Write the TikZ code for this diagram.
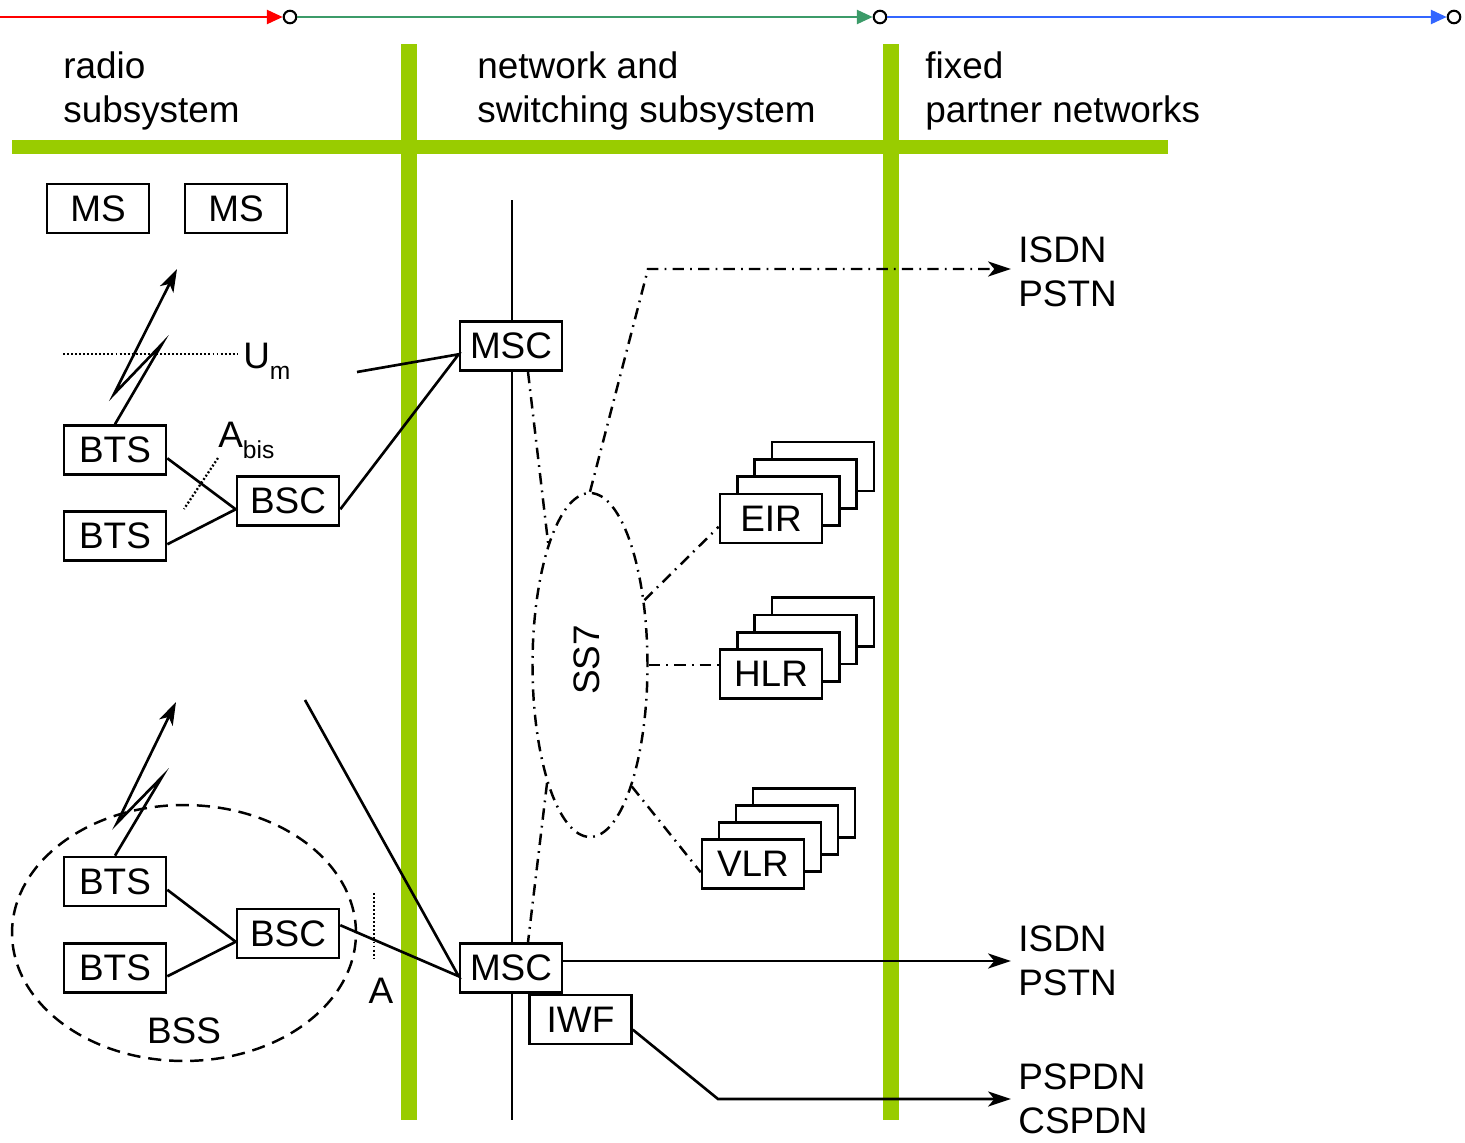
\documentclass[tikz,border=0pt]{standalone}
\usepackage{fontspec}
\setmainfont{Liberation Sans}
\usetikzlibrary{arrows.meta,shapes.geometric,calc}
\definecolor{bargreen}{RGB}{153,204,0}
\definecolor{linkred}{RGB}{255,0,0}
\definecolor{linkgreen}{RGB}{60,155,105}
\definecolor{linkblue}{RGB}{51,102,255}
\newcommand{\lowsub}[1]{\raisebox{-6.5pt}{\fontsize{14}{14}\selectfont #1}}

\begin{document}
\begin{tikzpicture}[x=0.02cm,y=-0.02cm,
  font=\fontsize{21}{25}\selectfont,
  every node/.style={inner sep=0pt},
  box/.style={draw,fill=white,line width=1.5pt,minimum width=2.04cm,minimum height=0.98cm},
  wire/.style={line width=1.5pt},
  feed/.style={-{Stealth[length=13pt,width=8.5pt,inset=3.5pt]}},
  sigline/.style={line width=1.4pt,dash pattern=on 6.5pt off 3.5pt on 1pt off 3.5pt},
  dotline/.style={line width=1.3pt,dash pattern=on 1.1pt off 1.2pt},
  greenbar/.style={bargreen,line width=0.32cm},
  joint/.style={circle,draw,fill=white,line width=1.2pt,minimum size=0.25cm},
  flow/.style={line width=1.2pt,-{Triangle[length=9pt,width=8pt]}}]
\useasboundingbox (0,0) rectangle (1465,1143);

\draw[greenbar,line width=0.28cm] (12,147) -- (1168,147);
\draw[greenbar] (409,44) -- (409,1120);
\draw[greenbar] (891,44) -- (891,1120);

\coordinate (start) at (0,17);
\node[joint] (dotA) at (290,17) {};
\node[joint] (dotB) at (880,17) {};
\node[joint] (dotC) at (1454,17) {};
\draw[flow,linkred] (start) -- (dotA);
\draw[flow,linkgreen] (dotA) -- (dotB);
\draw[flow,linkblue] (dotB) -- (dotC);

\node[anchor=west,align=left] (radioHd) at (63,91) {radio\\subsystem};
\node[anchor=west,align=left] (nssHd) at (477,91) {network and\\switching subsystem};
\node[anchor=west,align=left] (fixedHd) at (925,91) {fixed\\partner networks};

\coordinate (busTop) at (512,200);
\coordinate (busBot) at (512,1120);
\draw[wire] (busTop) -- (busBot);

\node[ellipse,draw,line width=1.4pt,dash pattern=on 7.5pt off 4.5pt,
  minimum width=6.88cm,minimum height=5.12cm] (bss) at (184,933) {};
\node[anchor=base] (bssLbl) at (184,1043) {BSS};

\node[box] (msA) at (98,208.5) {MS};
\node[box] (msB) at (236,208.5) {MS};
\node[box] (btsA) at (115,450) {BTS};
\node[box] (btsB) at (115,536) {BTS};
\node[box] (bscA) at (288,501) {BSC};
\node[box] (mscA) at (511,346) {MSC};
\node[box] (btsC) at (115,881.5) {BTS};
\node[box] (btsD) at (115,968) {BTS};
\node[box] (bscB) at (288,933.5) {BSC};
\node[box] (mscB) at (511,968) {MSC};
\node[box] (iwf) at (580.5,1019.5) {IWF};

\foreach \k in {3,2,1} {
  \node[box] (eir\k) at ($(771,518.5)+(\k*17.3,-\k*17.3)$) {};
  \node[box] (hlr\k) at ($(771,674)+(\k*17.3,-\k*17.3)$) {};
  \node[box] (vlr\k) at ($(753,864)+(\k*17,-\k*17)$) {};
}
\node[box] (eir) at (771,518.5) {EIR};
\node[box] (hlr) at (771,674) {HLR};
\node[box] (vlr) at (753,864) {VLR};

\node[ellipse,draw,sigline,minimum width=2.3cm,minimum height=6.88cm] (ss7) at (590,665) {};
\node[rotate=90] (ss7Lbl) at (587,660) {SS7};

\node[anchor=west,align=left,inner sep=4pt] (isdnA) at (1011,272) {ISDN\\PSTN};
\node[anchor=west,align=left,inner sep=4pt] (isdnB) at (1011,961) {ISDN\\PSTN};
\node[anchor=west,align=left,inner sep=4pt] (pspdn) at (1011,1099) {PSPDN\\CSPDN};

\draw[wire,feed] (btsA.north) -- (162,344) -- (114,394) -- (177,269);
\draw[wire,feed] (btsC.north) -- (162,777) -- (117,823) -- (176,702);
\draw[dotline] (63,354) -- (237,354);
\node[anchor=base west] (um) at (243,368) {U\lowsub{m}};
\draw[dotline] (218,458) -- (184,509);
\node[anchor=base west] (abis) at (218,447) {A\lowsub{bis}};
\draw[dotline] (374,893) -- (374,958);
\node[anchor=base] (aIf) at (381,1003) {A};

\draw[wire] (btsA.-9) -- (bscA.189) -- (btsB.-9);
\draw[wire] (btsC.-9) -- (bscB.189) -- (btsD.-9);
\coordinate (strayA) at (357,372);
\coordinate (strayB) at (305,700);
\draw[wire] (bscA.-9) -- (mscA.189) -- (strayA);
\draw[wire] (bscB.9) -- (mscB.189) -- (strayB);

\draw[sigline] ($(mscA.south)+(17,0)$) -- (ss7.109);
\draw[sigline] (ss7.250) -- ($(mscB.north)+(17,0)$);
\draw[sigline] (ss7.50) -- (eir.189);
\draw[sigline] (ss7.east) -- (ss7.east -| hlr.west);
\draw[sigline] (ss7.-71) -- (vlr.189);
\coordinate (kneeA) at (648,269);
\draw[sigline,feed] (ss7.north) -- (kneeA) -- (kneeA -| isdnA.west);

\draw[wire,feed] (mscB.east |- isdnB.west) -- (isdnB.west);
\coordinate (kneeB) at (718,1099);
\draw[wire,feed] (iwf.-11) -- (kneeB) -- (kneeB -| pspdn.west);
\end{tikzpicture}
\end{document}
